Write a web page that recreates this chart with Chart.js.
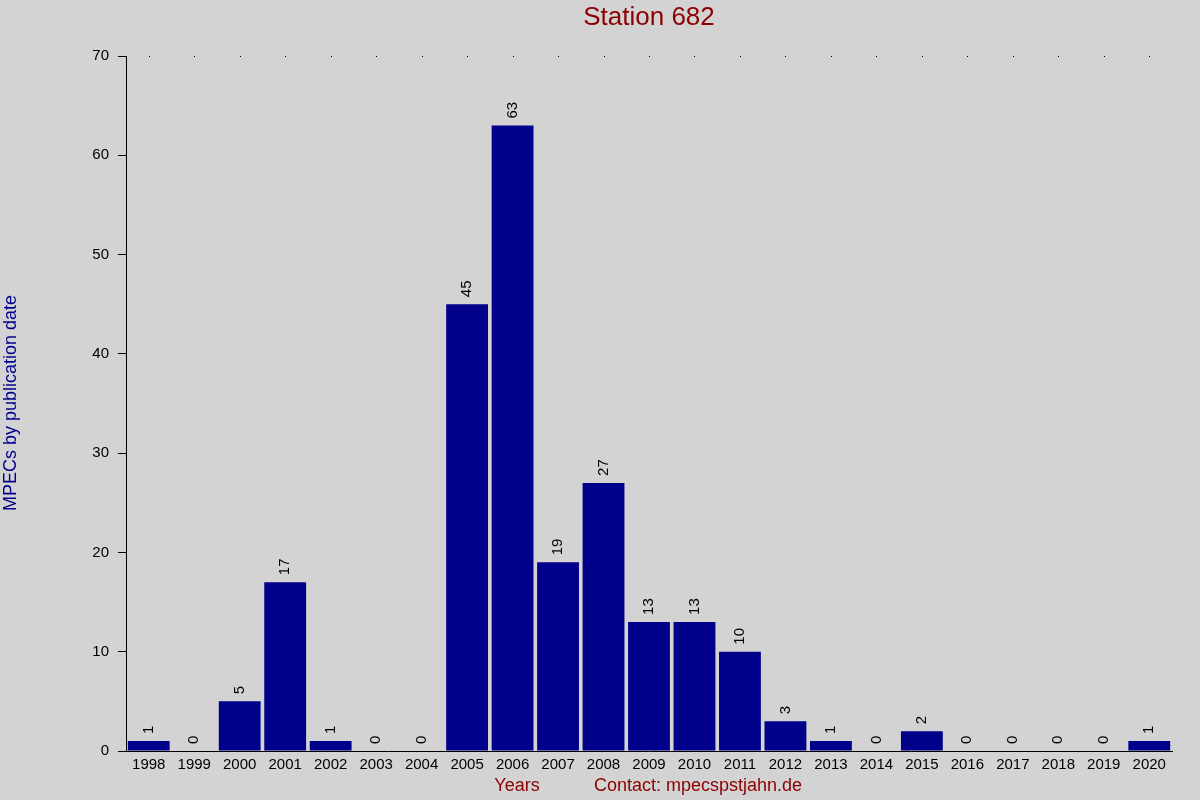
<!DOCTYPE html>
<html>
<head>
<meta charset="utf-8">
<script src="https://cdn.jsdelivr.net/npm/chart.js@4/dist/chart.umd.min.js"></script>
<style>
html,body{margin:0;padding:0;background:#d3d3d3;}
#c{display:block;}
</style>
</head>
<body>
<canvas id="c" width="1200" height="800"></canvas>
<script>
const years = ["1998","1999","2000","2001","2002","2003","2004","2005","2006","2007","2008","2009","2010","2011","2012","2013","2014","2015","2016","2017","2018","2019","2020"];
const counts = [1,0,5,17,1,0,0,45,63,19,27,13,13,10,3,1,0,2,0,0,0,0,1];
const yTicks = [0,10,20,30,40,50,60,70];
const titleText = "Station 682";
const yTitle = "MPECs by publication date";
const xTitle = "Years";
const contactText = "Contact: mpecspstjahn.de";

const FONT = "Arial, 'Liberation Sans', sans-serif";

const bgPlugin = {
  id: 'bg',
  beforeDraw(chart) {
    const ctx = chart.ctx;
    ctx.save();
    ctx.fillStyle = '#d3d3d3';
    ctx.fillRect(0, 0, chart.width, chart.height);
    ctx.restore();
  }
};

const decoPlugin = {
  id: 'deco',
  afterDraw(chart) {
    const ctx = chart.ctx;
    const area = chart.chartArea;
    const xs = chart.scales.x;
    ctx.save();
    // top dots
    ctx.fillStyle = '#000';
    years.forEach((y, i) => {
      const px = Math.round(xs.getPixelForValue(i));
      ctx.fillRect(px, Math.round(area.top), 1, 1);
    });
    // value labels
    const meta = chart.getDatasetMeta(0);
    ctx.font = "15px " + FONT;
    ctx.fillStyle = '#000';
    ctx.textAlign = 'left';
    ctx.textBaseline = 'middle';
    meta.data.forEach((bar, i) => {
      ctx.save();
      ctx.translate(bar.x, bar.y - 7);
      ctx.rotate(-Math.PI / 2);
      ctx.fillText(String(counts[i]), 0, 0);
      ctx.restore();
    });
    // title
    ctx.font = "26px " + FONT;
    ctx.fillStyle = '#8b0000';
    ctx.textAlign = 'center';
    ctx.textBaseline = 'middle';
    ctx.fillText(titleText, (area.left + area.right) / 2, 18);
    // y title
    ctx.save();
    ctx.translate(11, 403);
    ctx.rotate(-Math.PI / 2);
    ctx.font = "18px " + FONT;
    ctx.fillStyle = '#00008b';
    ctx.fillText(yTitle, 0, 0);
    ctx.restore();
    // x titles
    ctx.font = "18px " + FONT;
    ctx.fillStyle = '#8b0000';
    ctx.fillText(xTitle, 517, 786);
    ctx.fillText(contactText, 698, 786);
    ctx.restore();
  }
};

new Chart(document.getElementById('c'), {
  type: 'bar',
  data: {
    labels: years,
    datasets: [{
      data: counts,
      backgroundColor: '#00008b',
      borderWidth: 0,
      barPercentage: 0.92,
      categoryPercentage: 1.0
    }]
  },
  options: {
    responsive: false,
    animation: false,
    devicePixelRatio: 1,
    layout: { padding: { left: 0, right: 28, top: 56, bottom: 0 } },
    plugins: {
      legend: { display: false },
      tooltip: { enabled: false },
      title: { display: false }
    },
    scales: {
      x: {
        grid: { display: false, drawTicks: false },
        border: { display: true, color: '#000', width: 1 },
        ticks: {
          color: '#000',
          font: { size: 15, family: FONT },
          maxRotation: 0,
          autoSkip: false,
          padding: 5
        },
        afterFit(scale) { scale.height = 49; }
      },
      y: {
        min: 0,
        max: 70,
        afterBuildTicks(scale) { scale.ticks = yTicks.map(v => ({ value: v })); },
        grid: { display: true, drawOnChartArea: false, drawTicks: true, tickLength: 8, color: '#000' },
        border: { display: true, color: '#000', width: 1 },
        ticks: {
          color: '#000',
          font: { size: 15, family: FONT },
          padding: 9
        },
        afterFit(scale) { scale.width = 126; }
      }
    }
  },
  plugins: [bgPlugin, decoPlugin]
});
</script>
</body>
</html>
